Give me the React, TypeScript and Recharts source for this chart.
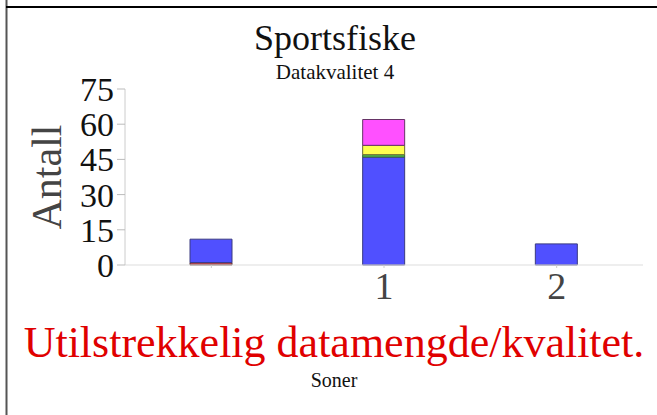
import React from 'react';
import { BarChart, Bar, XAxis, YAxis } from 'recharts';

const categories = ['', '1', '2'];
const redValues = [1, 0, 0];
const blueValues = [10, 46, 9];
const greenValues = [0, 1, 0];
const yellowValues = [0, 4, 0];
const magentaValues = [0, 11, 0];
const yTicks = [0, 15, 30, 45, 60, 75];

const data = categories.map((c, i) => ({
  name: c,
  red: redValues[i],
  blue: blueValues[i],
  green: greenValues[i],
  yellow: yellowValues[i],
  magenta: magentaValues[i],
}));

const serif = '"Liberation Serif", "DejaVu Serif", serif';

export default function App() {
  return (
    <div style={{ position: 'absolute', left: 0, top: 0, width: 657, height: 415, background: '#fff' }}>
      <BarChart
        width={657}
        height={415}
        data={data}
        margin={{ top: 89, right: 14, bottom: 90, left: 0 }}
        barCategoryGap={0}
      >
        <XAxis
          dataKey="name"
          stroke="#dddddd"
          tickLine={{ stroke: '#cccccc' }}
          tickSize={3}
          height={60}
          tick={{ fontFamily: serif, fontSize: 38, fill: '#444' }}
          tickMargin={4}
        />
        <YAxis
          width={125}
          domain={[0, 75]}
          ticks={yTicks}
          interval={0}
          stroke="#cccccc"
          tickLine={{ stroke: '#bbbbbb' }}
          tickSize={8}
          tickMargin={3}
          tick={{ fontFamily: serif, fontSize: 34, fill: '#111' }}
        />
        <Bar dataKey="red" stackId="s" fill="#c84848" stroke="#553333" barSize={42} isAnimationActive={false} />
        <Bar dataKey="blue" stackId="s" fill="#5050ff" stroke="#3a3a80" barSize={42} isAnimationActive={false} />
        <Bar dataKey="green" stackId="s" fill="#50c850" stroke="#356635" barSize={42} isAnimationActive={false} />
        <Bar dataKey="yellow" stackId="s" fill="#ffff50" stroke="#666633" barSize={42} isAnimationActive={false} />
        <Bar dataKey="magenta" stackId="s" fill="#ff50ff" stroke="#663366" barSize={42} isAnimationActive={false} />
      </BarChart>
      <svg width={657} height={415} style={{ position: 'absolute', left: 0, top: 0, pointerEvents: 'none' }}>
        <line x1={6.5} y1={0} x2={6.5} y2={415} stroke="#555" strokeWidth={2} />
        <line x1={6} y1={7} x2={657} y2={7} stroke="#000" strokeWidth={2} />
        <text x={335} y={50} textAnchor="middle" fontFamily={serif} fontSize={36} fill="#111">Sportsfiske</text>
        <text x={335} y={79} textAnchor="middle" fontFamily={serif} fontSize={21} fill="#111">Datakvalitet 4</text>
        <text x={0} y={0} transform="translate(61,177) rotate(-90)" textAnchor="middle" fontFamily={serif} fontSize={42} fill="#444">Antall</text>
        <text x={334} y={357} textAnchor="middle" fontFamily={serif} fontSize={44} fill="#e00000">Utilstrekkelig datamengde/kvalitet.</text>
        <text x={334} y={387} textAnchor="middle" fontFamily={serif} fontSize={20} fill="#111">Soner</text>
      </svg>
    </div>
  );
}
